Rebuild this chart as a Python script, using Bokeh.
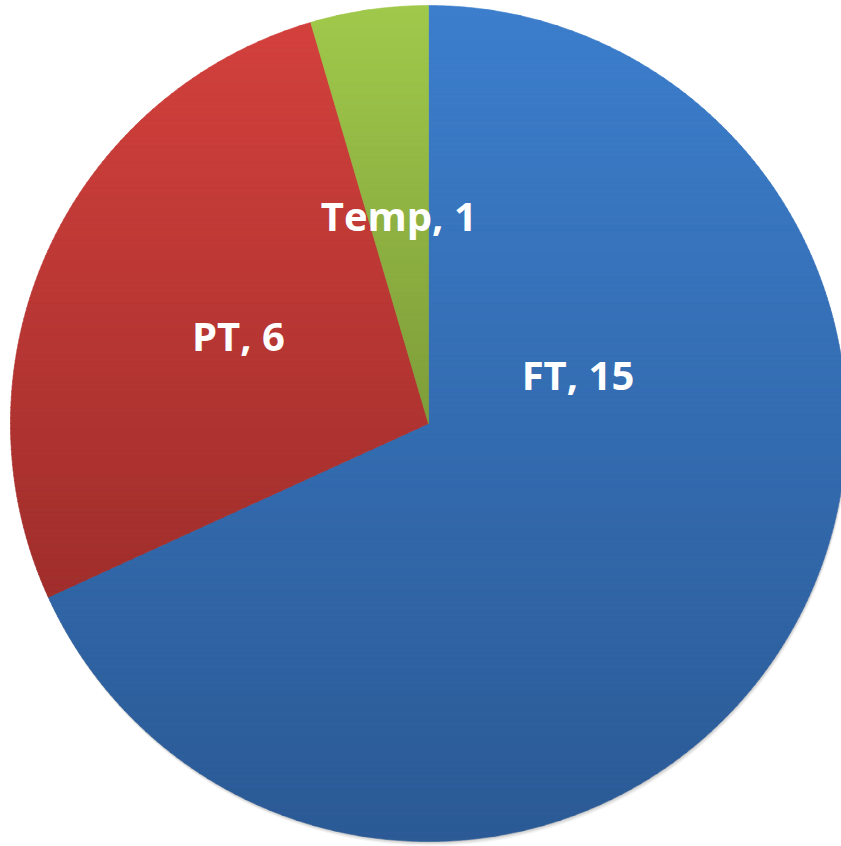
import numpy as np
from bokeh.plotting import figure
from bokeh.models import Range1d, ColumnDataSource
from bokeh.core.properties import value
from bokeh.embed import file_html
from bokeh.resources import INLINE

# ---- data ----
categories = ["FT", "PT", "Temp"]
values = [15, 6, 1]

# ---- style / layout ----
top_colors = ["#3C7ECC", "#D4413D", "#A0C94B"]
bottom_colors = ["#2B5A95", "#8A2624", "#5C7028"]
W, H = 841, 846
CX, CY, R = 428, 423, 418
LABEL_FRAC = 0.5
LABEL_OVERRIDE = {"FT": (0.375, 17.5)}  # (radius fraction, angle deg) for large slice
FONT_PX = 40
BASELINE_SHIFT = 0.04  # fraction of font size
N_BANDS = 160


def hex2rgb(h):
    h = h.lstrip("#")
    return np.array([int(h[i:i + 2], 16) for i in (0, 2, 4)], dtype=float)


def rgb2hex(c):
    c = np.clip(np.round(c), 0, 255).astype(int)
    return "#%02x%02x%02x" % tuple(c)


def clip_half(poly, yc, keep_above):
    out = []
    n = len(poly)
    for i in range(n):
        cur = poly[i]
        prev = poly[i - 1]
        cin = cur[1] >= yc if keep_above else cur[1] <= yc
        pin = prev[1] >= yc if keep_above else prev[1] <= yc
        if cin:
            if not pin:
                t = (yc - prev[1]) / (cur[1] - prev[1])
                out.append((prev[0] + t * (cur[0] - prev[0]), yc))
            out.append(cur)
        elif pin:
            t = (yc - prev[1]) / (cur[1] - prev[1])
            out.append((prev[0] + t * (cur[0] - prev[0]), yc))
    return out


p = figure(width=W, height=H, x_range=Range1d(0, W), y_range=Range1d(0, H),
           output_backend="svg", toolbar_location=None, min_border=0)
p.axis.visible = False
p.grid.visible = False
p.outline_line_color = None
p.background_fill_color = "white"
p.border_fill_color = "white"

# soft shadow
for dx, dy, a in [(1.5, -4.5, 0.05), (1.0, -3.0, 0.08), (0.5, -1.5, 0.10)]:
    p.circle(x=[CX + dx], y=[CY + dy], radius=R, fill_color="black",
             fill_alpha=a, line_color=None)

total = float(sum(values))
xs, ys, cols = [], [], []
label_x, label_y = [], []
cum = 0.0
band_h = 2 * R / N_BANDS
for i, (cat, v) in enumerate(zip(categories, values)):
    a0 = 90 - cum / total * 360
    a1 = 90 - (cum + v) / total * 360
    npts = max(int(abs(a0 - a1) * 2), 4)
    t = np.radians(np.linspace(a0, a1, npts))
    poly = [(CX, CY)] + [(CX + R * np.cos(a), CY + R * np.sin(a)) for a in t]
    ctop, cbot = hex2rgb(top_colors[i]), hex2rgb(bottom_colors[i])
    for k in range(N_BANDS):
        y0 = CY - R + k * band_h
        y1 = y0 + band_h + 0.8
        piece = clip_half(poly, y0, True)
        if len(piece) < 3:
            continue
        piece = clip_half(piece, y1, False)
        if len(piece) < 3:
            continue
        frac = 1 - ((y0 + band_h / 2) - (CY - R)) / (2 * R)  # 0 top, 1 bottom
        c = rgb2hex(ctop + (cbot - ctop) * frac)
        xs.append([q[0] for q in piece])
        ys.append([q[1] for q in piece])
        cols.append(c)
    mid = (a0 + a1) / 2
    rf, ang = LABEL_OVERRIDE.get(cat, (LABEL_FRAC, mid))
    label_x.append(CX + rf * R * np.cos(np.radians(ang)))
    label_y.append(CY + rf * R * np.sin(np.radians(ang)) + BASELINE_SHIFT * FONT_PX)
    cum += v

p.patches(xs=xs, ys=ys, fill_color=cols, line_color=cols, line_width=0.6)

src = ColumnDataSource(dict(x=label_x, y=label_y,
                            text=["%s, %d" % (c, v) for c, v in zip(categories, values)]))
p.text(x="x", y="y", text="text", source=src, text_font=value("Open Sans"),
       text_font_style="bold", text_font_size="%dpx" % FONT_PX, text_color="white",
       text_align="center", text_baseline="alphabetic")

open("out.html", "w").write(file_html(p, INLINE))
